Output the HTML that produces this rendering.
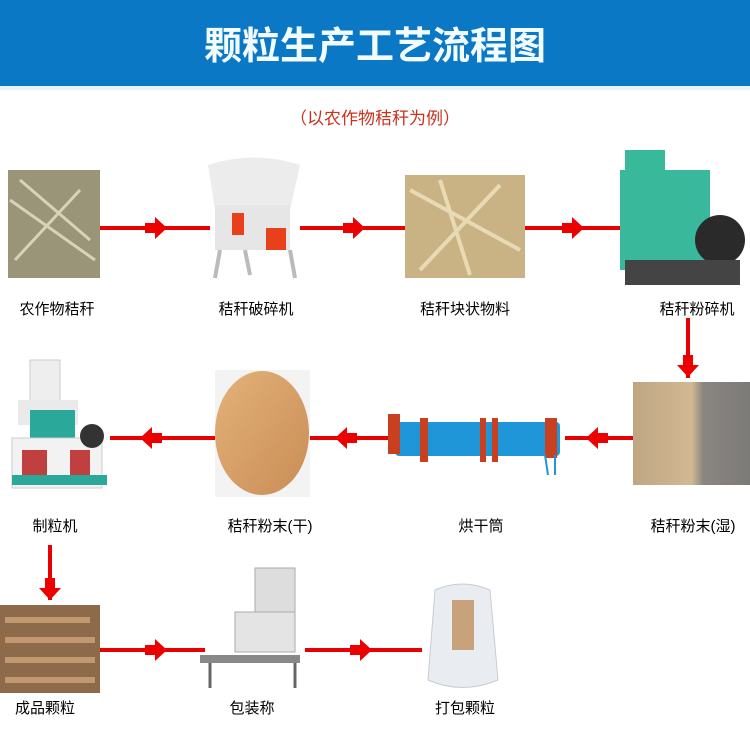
<!DOCTYPE html>
<html><head><meta charset="utf-8"><style>
body{margin:0;width:750px;height:729px;background:#fff;overflow:hidden;font-family:"Liberation Sans","Noto Sans CJK SC",sans-serif}
</style></head><body>
<svg width="750" height="729" xmlns="http://www.w3.org/2000/svg" style="position:absolute;left:0;top:0">
<defs>
<g id="ar"><polygon points="-10,-5 0,-5 0,-11 12,0 0,11 0,5 -10,5" fill="#ee0000"/></g>
<linearGradient id="sd" x1="0" y1="0" x2="1" y2="1"><stop offset="0" stop-color="#e3b27a"/><stop offset="1" stop-color="#c98d55"/></linearGradient>
<linearGradient id="wet" x1="0" y1="0" x2="1" y2="0"><stop offset="0" stop-color="#bfa682"/><stop offset="0.5" stop-color="#d2b994"/><stop offset="0.6" stop-color="#8a8580"/><stop offset="1" stop-color="#7c7a78"/></linearGradient>
</defs>
<rect x="0" y="0" width="750" height="86" fill="#0b78c6"/>
<rect x="0" y="86" width="750" height="4" fill="#e6f4fb"/>
<text x="375" y="59" font-size="38" font-weight="bold" fill="#f2fbff" text-anchor="middle" font-family="Noto Sans CJK SC,sans-serif">颗粒生产工艺流程图</text>
<text x="375" y="124" font-size="17" fill="#c8321e" text-anchor="middle" font-family="Noto Sans CJK SC,sans-serif">（以农作物秸秆为例）</text>

<!-- row1 lines -->
<g stroke="#e80000" stroke-width="4">
<line x1="100" y1="228" x2="210" y2="228"/><line x1="300" y1="228" x2="408" y2="228"/><line x1="525" y1="228" x2="625" y2="228"/>
<line x1="688" y1="318" x2="688" y2="378"/>
<line x1="110" y1="438" x2="215" y2="438"/><line x1="310" y1="438" x2="390" y2="438"/><line x1="565" y1="438" x2="635" y2="438"/>
<line x1="50" y1="545" x2="50" y2="600"/>
<line x1="100" y1="650" x2="205" y2="650"/><line x1="305" y1="650" x2="422" y2="650"/>
</g>
<use href="#ar" x="155" y="228"/><use href="#ar" x="353" y="228"/><use href="#ar" x="572" y="228"/>
<use href="#ar" transform="translate(688,365) rotate(90)"/>
<use href="#ar" transform="translate(152,438) rotate(180)"/><use href="#ar" transform="translate(347,438) rotate(180)"/><use href="#ar" transform="translate(598,438) rotate(180)"/>
<use href="#ar" transform="translate(50,588) rotate(90)"/>
<use href="#ar" x="155" y="650"/><use href="#ar" x="360" y="650"/>

<!-- row1 images -->
<rect x="8" y="170" width="92" height="108" fill="#9a9478"/>
<path d="M10 200 L95 260 M20 180 L90 240 M15 260 L80 190" stroke="#d8d2b8" stroke-width="3"/>
<path d="M208 165 Q255 150 300 165 L290 210 L215 210 Z" fill="#ececec"/>
<rect x="215" y="205" width="75" height="45" fill="#e6e6e6"/>
<rect x="232" y="213" width="12" height="22" fill="#e8401a"/><rect x="266" y="228" width="20" height="22" fill="#e8401a"/>
<path d="M220 250 L215 278 M290 250 L295 278 M245 250 L250 275" stroke="#bbb" stroke-width="4"/>
<rect x="405" y="175" width="120" height="103" fill="#c9b283"/>
<path d="M410 190 L520 250 M420 270 L500 185 M440 180 L470 275" stroke="#e8dab4" stroke-width="4"/>
<rect x="625" y="150" width="40" height="25" fill="#38b99a"/>
<rect x="620" y="170" width="90" height="100" fill="#3ab89b"/>
<circle cx="720" cy="240" r="25" fill="#2a2a2a"/>
<rect x="625" y="260" width="115" height="25" fill="#444"/>
<text x="57" y="314" font-size="15" text-anchor="middle">农作物秸秆</text>
<text x="256" y="314" font-size="15" text-anchor="middle">秸秆破碎机</text>
<text x="465" y="314" font-size="15" text-anchor="middle">秸秆块状物料</text>
<text x="697" y="314" font-size="15" text-anchor="middle">秸秆粉碎机</text>

<!-- row2 -->
<rect x="30" y="360" width="30" height="45" fill="#eee" stroke="#ccc"/>
<rect x="18" y="400" width="60" height="25" fill="#eaeaea"/>
<rect x="30" y="410" width="45" height="35" fill="#2aa99a"/>
<rect x="12" y="438" width="90" height="50" fill="#f2f2f2" stroke="#ccc"/>
<rect x="22" y="450" width="25" height="25" fill="#c04040"/><rect x="70" y="450" width="20" height="25" fill="#c04040"/>
<rect x="12" y="475" width="95" height="10" fill="#2aa99a"/>
<circle cx="92" cy="436" r="12" fill="#333"/>
<rect x="215" y="370" width="95" height="127" fill="#f3f3f3"/>
<ellipse cx="262" cy="433" rx="47" ry="62" fill="url(#sd)"/>
<rect x="395" y="422" width="165" height="34" rx="4" fill="#1e96d8"/>
<rect x="388" y="414" width="12" height="40" fill="#c84020"/>
<rect x="420" y="418" width="8" height="44" fill="#c84020"/><rect x="480" y="418" width="6" height="44" fill="#c84020"/><rect x="492" y="418" width="6" height="44" fill="#c84020"/>
<rect x="545" y="418" width="12" height="40" fill="#c84020"/>
<path d="M545 455 L548 475 M555 455 L555 475" stroke="#1e96d8" stroke-width="2"/>
<rect x="633" y="382" width="117" height="103" fill="url(#wet)"/>
<text x="55" y="531" font-size="15" text-anchor="middle">制粒机</text>
<text x="270" y="531" font-size="15" text-anchor="middle">秸秆粉末(干)</text>
<text x="481" y="531" font-size="15" text-anchor="middle">烘干筒</text>
<text x="693" y="531" font-size="15" text-anchor="middle">秸秆粉末(湿)</text>

<!-- row3 -->
<rect x="0" y="605" width="100" height="88" fill="#8d6a4a"/>
<path d="M5 620 L90 620 M5 640 L95 640 M5 660 L95 660 M5 680 L95 680" stroke="#c29870" stroke-width="6"/>
<rect x="255" y="568" width="40" height="50" fill="#ddd" stroke="#aaa"/>
<rect x="235" y="612" width="60" height="40" fill="#e4e4e4" stroke="#aaa"/>
<rect x="200" y="655" width="100" height="8" fill="#888"/>
<path d="M210 663 L210 688 M295 663 L295 688" stroke="#666" stroke-width="3"/>
<path d="M435 590 Q462 578 490 590 L498 680 Q462 695 428 680 Z" fill="#e9ecf0" stroke="#c8ccd2"/>
<rect x="452" y="600" width="22" height="50" fill="#c8a27a"/>
<text x="45" y="713" font-size="15" text-anchor="middle">成品颗粒</text>
<text x="252" y="713" font-size="15" text-anchor="middle">包装称</text>
<text x="465" y="713" font-size="15" text-anchor="middle">打包颗粒</text>
</svg>
</body></html>
